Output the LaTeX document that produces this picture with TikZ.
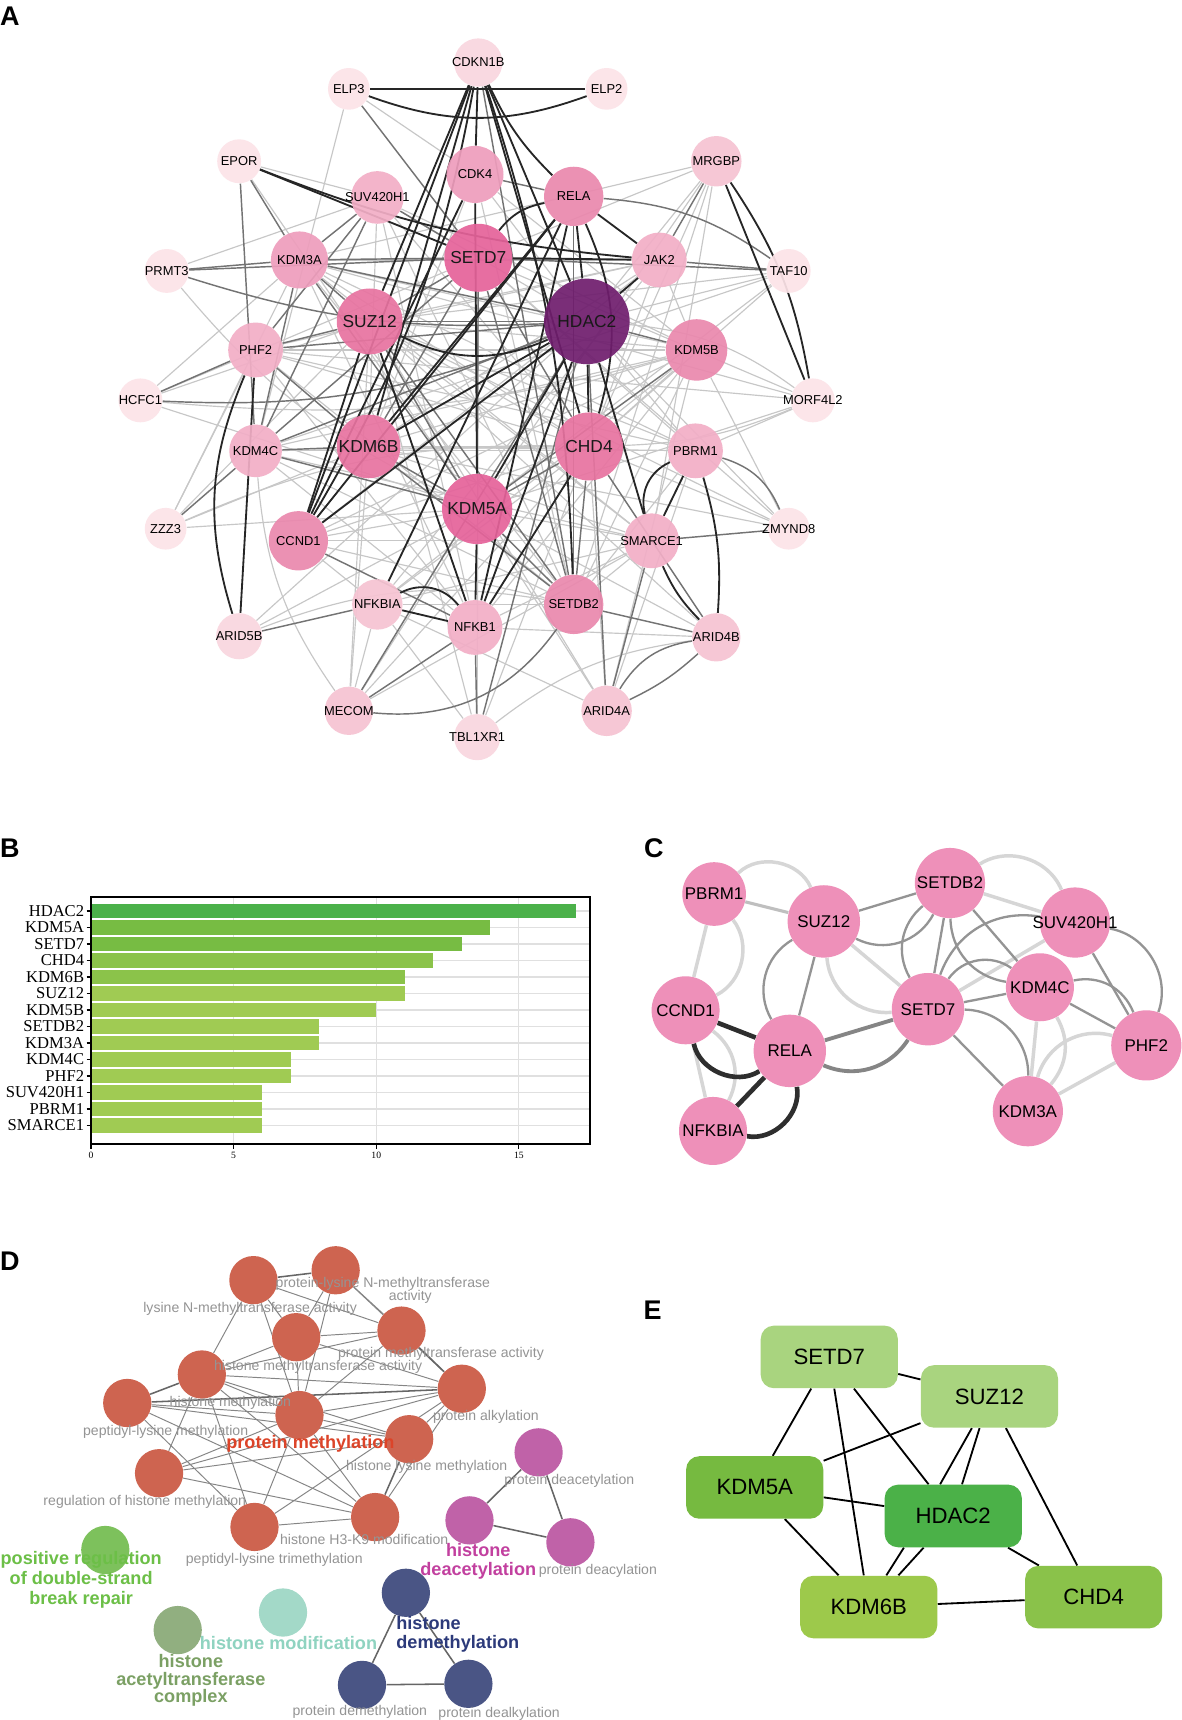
\documentclass[tikz,border=0pt]{standalone}
\usepackage{fontspec}
\setmainfont{Liberation Sans}
\newfontfamily\barfont{Liberation Serif}
\usetikzlibrary{backgrounds}

% pinks for panel A
\definecolor{pkA}{HTML}{FCE3E8}
\definecolor{pkB}{HTML}{F9D6DF}
\definecolor{pkC}{HTML}{F6C3D2}
\definecolor{pkD}{HTML}{F2AEC6}
\definecolor{pkE}{HTML}{EE9DBC}
\definecolor{pkF}{HTML}{EA88AD}
\definecolor{pkG}{HTML}{E873A0}
\definecolor{pkH}{HTML}{E5629A}
\definecolor{hdac}{HTML}{6F1D6D}
% greens
\definecolor{barA}{HTML}{4BB14A}
\definecolor{barB}{HTML}{77BC43}
\definecolor{barC}{HTML}{8BC34A}
\definecolor{barD}{HTML}{A0CB53}
\definecolor{eLight}{HTML}{A9D47F}
\definecolor{eKDM5A}{HTML}{76BA40}
\definecolor{eHDAC}{HTML}{4BB148}
\definecolor{eKDM6B}{HTML}{9DC94B}
\definecolor{eCHD4}{HTML}{8AC24A}
% panel C, D
\definecolor{cpink}{HTML}{EE90B9}
\definecolor{dOrange}{HTML}{CE6450}
\definecolor{dPurple}{HTML}{C062A8}
\definecolor{dNavy}{HTML}{4A5585}
\definecolor{dGreen}{HTML}{7DC15C}
\definecolor{dOlive}{HTML}{91AF80}
\definecolor{dTeal}{HTML}{A3D9C8}
\definecolor{tRed}{HTML}{DC4429}
\definecolor{tPurple}{HTML}{C2409F}
\definecolor{tGreen}{HTML}{6CBF47}
\definecolor{tTeal}{HTML}{8FD3C0}
\definecolor{tOlive}{HTML}{7BA064}
\definecolor{tNavy}{HTML}{2C3A7A}

\tikzset{
  panel/.style={font=\fontsize{14}{15}\selectfont\bfseries, inner sep=0pt},
  gene/.style={circle, inner sep=0pt, fill opacity=0.92, text opacity=1,
    font=\fontsize{6.7}{8}\selectfont},
  hubgene/.style={gene, font=\fontsize{9}{10}\selectfont},
  edark/.style={black!85, line width=0.95pt},
  emid/.style={black!55, line width=0.75pt},
  elite/.style={black!22, line width=0.6pt},
  barlabel/.style={anchor=east, inner sep=0pt, font=\barfont\fontsize{8.6}{9}\selectfont},
  ticklabel/.style={inner sep=0pt, font=\barfont\fontsize{5}{6}\selectfont},
  gridline/.style={black!12, line width=0.6pt},
  cgene/.style={circle, fill=cpink, inner sep=0pt, font=\fontsize{8.8}{10}\selectfont},
  clite/.style={black!16, line width=1.8pt},
  cmid/.style={black!42, line width=1.2pt},
  cthick/.style={black!48, line width=2pt},
  cdark/.style={black!82, line width=2.4pt},
  dnode/.style={circle, minimum size=8.8mm, inner sep=0pt},
  dedge/.style={black!48, line width=0.5pt},
  dedgeb/.style={black!60, line width=0.8pt},
  term/.style={text=black!42, inner sep=0pt, font=\fontsize{7.3}{8.5}\selectfont},
  grp/.style={inner sep=0pt, align=center, font=\fontsize{9.4}{10}\selectfont\bfseries},
  ebox/.style={rounded corners=2.4mm, minimum width=25mm, minimum height=11.4mm,
    inner sep=0pt, font=\fontsize{11.5}{12}\selectfont},
  eedge/.style={black, line width=0.95pt}
}

\begin{document}
\begin{tikzpicture}[x=0.2mm, y=-0.2mm]
\useasboundingbox (0,0) rectangle (1077,1568);
\begin{pgfonlayer}{background}
  \fill[white] (0,0) rectangle (1077,1568);
\end{pgfonlayer}

\node[panel] (labA) at (9,15) {A};
\node[panel] (labB) at (9,773) {B};
\node[panel] (labC) at (596,773) {C};
\node[panel] (labD) at (9,1150) {D};
\node[panel] (labE) at (595,1194) {E};

%% A: PPI network
\foreach \n/\x/\y/\r/\c in {CDKN1B/436/57/22/pkB, ELP3/318/81/19/pkA, ELP2/553/81/19/pkA,
    EPOR/218/147/20/pkA, SUV420H1/344/180/24/pkD, CDK4/433/159/26/pkE, RELA/523/179/27/pkF,
    MRGBP/653/147/23/pkC, KDM3A/273/237/26/pkE, JAK2/601/237/25/pkD, TAF10/719/247/20/pkA,
    PRMT3/152/247/20/pkA, KDM5B/635/319/28/pkF, PHF2/233/319/25/pkD, HCFC1/128/365/20/pkA,
    MORF4L2/741/365/20/pkA, KDM4C/233/411/24/pkD, PBRM1/634/411/25/pkD, ZZZ3/151/482/19/pkA,
    CCND1/272/493/27/pkF, SMARCE1/594/493/25/pkD, ZMYND8/719/482/19/pkA, NFKBIA/344/551/23/pkC,
    NFKB1/433/572/25/pkD, SETDB2/523/551/27/pkF, ARID5B/218/580/21/pkB, ARID4B/653/581/22/pkC,
    MECOM/318/648/22/pkC, ARID4A/553/648/23/pkC, TBL1XR1/435/672/21/pkB}
  \node[gene, fill=\c, minimum size=\r*0.4mm] (a\n) at (\x,\y) {\makebox[0pt]{\n}};
\foreach \n/\x/\y/\r/\c in {SETD7/436/235/31/pkH, SUZ12/337/293/30/pkG, HDAC2/535/293/39/hdac,
    KDM6B/336/407/29/pkG, CHD4/537/407/31/pkG, KDM5A/435/464/32/pkH}
  \node[hubgene, fill=\c, minimum size=\r*0.4mm, text=black!90] (a\n) at (\x,\y) {\makebox[0pt]{\n}};

\begin{pgfonlayer}{background}
  \foreach \p/\q in {MRGBP/CHD4, MRGBP/HDAC2, MRGBP/KDM5A, MRGBP/SMARCE1, MRGBP/SETDB2,
      TAF10/HDAC2, TAF10/KDM5A, TAF10/CHD4, MORF4L2/PBRM1, MORF4L2/KDM5A, ZMYND8/CHD4,
      ZMYND8/HDAC2, ZMYND8/KDM5B, ZZZ3/KDM3A, ZZZ3/PHF2, ZZZ3/SUZ12, HCFC1/SUZ12, HCFC1/SETD7,
      PRMT3/SUV420H1, ELP3/CDK4, CDK4/HDAC2, CDK4/KDM5B, CDK4/SETDB2, CDK4/KDM6B,
      SUV420H1/HDAC2, SUV420H1/KDM5B, SUV420H1/CHD4, SUV420H1/SETDB2, KDM3A/KDM5B, KDM3A/CHD4,
      KDM3A/PBRM1, KDM3A/NFKB1, KDM3A/SMARCE1, PHF2/CHD4, PHF2/KDM5B, PHF2/SETDB2, PHF2/PBRM1,
      KDM4C/CHD4, KDM4C/KDM5B, KDM4C/SETDB2, KDM4C/PBRM1, KDM4C/SMARCE1, KDM6B/KDM5B,
      KDM6B/PBRM1, KDM6B/SMARCE1, KDM6B/MECOM, SUZ12/KDM5B, SUZ12/CHD4, SUZ12/PBRM1,
      SUZ12/SMARCE1, SUZ12/MECOM, KDM5B/CHD4, KDM5B/SETDB2, KDM5B/NFKB1, KDM5B/ARID4A,
      PBRM1/SETDB2, PBRM1/ARID4A, PBRM1/HDAC2, PBRM1/SETD7, SMARCE1/SETDB2, SMARCE1/NFKBIA,
      SMARCE1/KDM5A, SETDB2/NFKBIA, NFKBIA/MECOM, NFKBIA/TBL1XR1, NFKBIA/CCND1, CCND1/KDM5B,
      CCND1/SMARCE1, CCND1/KDM5A, MECOM/CHD4, TBL1XR1/CHD4, TBL1XR1/KDM5A, TBL1XR1/SETD7,
      ARID4A/KDM5A, ARID4A/CHD4, ARID4A/NFKBIA, ARID4B/KDM5A, ARID4B/NFKB1, ARID5B/KDM5A,
      JAK2/KDM5B, JAK2/SUZ12, JAK2/KDM6B, JAK2/CHD4, JAK2/KDM3A, JAK2/PHF2, ZZZ3/KDM6B,
      HCFC1/KDM3A, ELP3/KDM4C, MRGBP/KDM3A, EPOR/SUV420H1, SUV420H1/KDM6B,
      HDAC2/ARID5B, KDM5A/ZZZ3, KDM5A/HCFC1, KDM5A/EPOR, CHD4/KDM6B, CHD4/CCND1, CHD4/NFKBIA,
      SETDB2/KDM3A, SETDB2/CCND1, NFKB1/SUV420H1, NFKB1/PHF2, NFKB1/KDM4C, NFKB1/SMARCE1,
      SETD7/ZMYND8, SETD7/MORF4L2, SETD7/MRGBP, SUZ12/TAF10, SUZ12/ZMYND8, KDM6B/ZMYND8,
      KDM3A/MORF4L2, PHF2/MORF4L2, KDM4C/TAF10, CCND1/JAK2, NFKBIA/JAK2, NFKBIA/KDM5B,
      MECOM/KDM5A, MECOM/SMARCE1, TBL1XR1/SUZ12, ARID4A/SUZ12, ARID4B/SUZ12}
    \draw[elite] (a\p) -- (a\q);
  \foreach \p/\q/\b in {MORF4L2/HDAC2/-15, MORF4L2/CHD4/10, KDM4C/MECOM/-15, TBL1XR1/ARID4B/15,
      HCFC1/KDM5B/-10, ZZZ3/CHD4/12, PRMT3/KDM5A/-12, ARID5B/SETDB2/15}
    \draw[elite] (a\p) to[bend left=\b] (a\q);
  \foreach \p/\q in {EPOR/KDM3A, EPOR/KDM4C, ELP3/SETD7, SUZ12/HDAC2, CDKN1B/SETDB2,
      SUZ12/SETDB2, KDM6B/SETDB2, KDM6B/KDM5A, KDM5A/SETDB2, KDM5A/CHD4, KDM5A/SUZ12,
      KDM5A/SETD7, KDM5A/KDM5B, KDM5A/KDM4C, KDM5A/KDM3A, SETD7/SUZ12, SETD7/KDM6B,
      SETD7/SETDB2, SETD7/KDM3A, SETD7/KDM4C, SETD7/SUV420H1, SETD7/CHD4, SETD7/TAF10,
      JAK2/TAF10, MRGBP/JAK2, PHF2/HCFC1, PHF2/KDM6B, PHF2/SUZ12, PHF2/HDAC2, KDM3A/HDAC2,
      KDM3A/SUZ12, KDM3A/KDM4C, KDM4C/ZZZ3, KDM4C/HDAC2, KDM4C/KDM6B, SMARCE1/ZMYND8,
      SETDB2/ARID4B, ARID4A/HDAC2, ARID4A/SMARCE1, NFKB1/TBL1XR1, HDAC2/TBL1XR1, NFKBIA/ARID5B,
      CCND1/NFKB1, MECOM/NFKB1, MECOM/HDAC2, PRMT3/KDM3A, PRMT3/SETD7, SUV420H1/KDM4C,
      SUV420H1/KDM3A, SUV420H1/PHF2, CHD4/ARID4B, KDM5B/HDAC2, CHD4/SETDB2, RELA/SETDB2,
      CDK4/RELA}
    \draw[emid] (a\p) -- (a\q);
  \foreach \p/\q/\b in {RELA/TAF10/15, PBRM1/ZMYND8/25, ARID4A/ARID4B/25, ARID4A/ARID4B/-8,
      MECOM/SETDB2/-30, HCFC1/HDAC2/-12, PRMT3/HDAC2/-10}
    \draw[emid] (a\p) to[bend left=\b] (a\q);
  \foreach \p/\q in {ELP3/ELP2, CDKN1B/CDK4, CDKN1B/SUZ12, CDKN1B/CCND1, CDKN1B/KDM6B,
      CDKN1B/HDAC2, CDKN1B/CHD4, EPOR/SETD7, MRGBP/MORF4L2, ARID5B/PHF2, NFKBIA/NFKB1,
      PBRM1/SMARCE1, CCND1/CDK4, CCND1/RELA, CCND1/HDAC2, KDM6B/RELA, KDM6B/HDAC2, RELA/HDAC2,
      RELA/NFKB1, RELA/NFKBIA, RELA/JAK2, HDAC2/KDM5A, HDAC2/CHD4, HDAC2/NFKB1, HDAC2/SMARCE1,
      HDAC2/JAK2, KDM5A/NFKB1, SUZ12/NFKB1, CHD4/NFKB1, SETD7/JAK2, CDK4/KDM5A, SUZ12/CCND1}
    \draw[edark] (a\p) -- (a\q);
  \foreach \p/\q/\b in {ELP3/ELP2/-20, EPOR/JAK2/-8, MRGBP/MORF4L2/12, ARID5B/PHF2/20,
      NFKBIA/NFKB1/40, PBRM1/SMARCE1/-40, CDKN1B/CCND1/10, CDKN1B/SETDB2/8, RELA/CHD4/20,
      SUZ12/HDAC2/-25, RELA/SETD7/-20, SMARCE1/ARID4B/-10, PBRM1/ARID4B/10, CDKN1B/RELA/-10}
    \draw[edark] (a\p) to[bend left=\b] (a\q);
\end{pgfonlayer}

%% B: degree bars
\foreach \k in {5,10,15}
  \draw[gridline] (83+26*\k,818) -- (83+26*\k,1043);
\foreach \g/\v/\c [count=\i] in {HDAC2/17/barA, KDM5A/14/barB, SETD7/13/barB, CHD4/12/barC,
    KDM6B/11/barC, SUZ12/11/barD, KDM5B/10/barD, SETDB2/8/barD, KDM3A/8/barD, KDM4C/7/barD,
    PHF2/7/barD, SUV420H1/6/barD, PBRM1/6/barD, SMARCE1/6/barD}{
  \pgfmathsetmacro\yy{830.5+15.04*(\i-1)}
  \draw[gridline] (83,\yy) -- (538,\yy);
  \fill[\c] (83,\yy-6.8) rectangle (83+26*\v,\yy+6.8);
  \draw[line width=0.6pt] (79,\yy) -- (83,\yy);
  \node[barlabel] (b\g) at (77,\yy) {\g};
}
\draw[line width=0.9pt] (83,818) rectangle (538,1043);
\foreach \k in {0,5,10,15}{
  \draw[line width=0.6pt] (83+26*\k,1043) -- (83+26*\k,1047);
  \node[ticklabel] (bt\k) at (83+26*\k,1053) {\k};
}

%% C: sub-network
\foreach \n/\x/\y/\r in {PBRM1/651/815/29, SUZ12/751/840/33, SETDB2/866/805/32,
    SUV420H1/980/841/32, CCND1/625/921/31, RELA/720/958/33, SETD7/846/920/33,
    KDM4C/948/900/31, PHF2/1045/953/32, NFKBIA/650/1031/31, KDM3A/937/1013/32}
  \node[cgene, minimum size=\r*0.4mm] (c\n) at (\x,\y) {\makebox[0pt]{\n}};
\begin{pgfonlayer}{background}
  \foreach \p/\q in {PBRM1/CCND1, SUZ12/SETD7, SETDB2/SUV420H1, SUV420H1/SETD7, KDM4C/KDM3A,
      KDM3A/PHF2, CCND1/NFKBIA}
    \draw[clite] (c\p) -- (c\q);
  \draw[black!25, line width=1.6pt] (cPBRM1) -- (cSUZ12);
  \foreach \p/\q/\b in {PBRM1/SUZ12/55, PBRM1/CCND1/50, SUZ12/SETD7/-45, SETDB2/SUV420H1/50,
      KDM4C/KDM3A/35, KDM3A/PHF2/45, CCND1/NFKBIA/40}
    \draw[clite] (c\p) to[bend left=\b] (c\q);
  \foreach \p/\q in {SUZ12/SETDB2, SUZ12/RELA, SETDB2/SETD7, SETDB2/KDM4C, SUV420H1/PHF2,
      KDM4C/SETD7, KDM4C/PHF2, SETD7/KDM3A}
    \draw[cmid] (c\p) -- (c\q);
  \foreach \p/\q/\b in {SUZ12/SETDB2/-45, SUZ12/RELA/-45, SETDB2/SETD7/-40, SETDB2/KDM4C/-40,
      SUV420H1/SETD7/-40, SUV420H1/PHF2/50, KDM4C/SETD7/-45, KDM4C/PHF2/40, SETD7/KDM3A/45}
    \draw[cmid] (c\p) to[bend left=\b] (c\q);
  \draw[cthick] (cRELA) -- (cSETD7);
  \draw[cthick] (cRELA) to[bend right=40] (cSETD7);
  \draw[cdark] (cCCND1) -- (cRELA);
  \draw[cdark] (cCCND1) to[bend right=55] (cRELA);
  \draw[cdark] (cRELA) -- (cNFKBIA);
  \draw[cdark] (cRELA) to[bend left=55] (cNFKBIA);
\end{pgfonlayer}

%% D: enrichment clusters
\foreach \i/\x/\y in {1/231/1167, 2/306/1158, 3/270/1219, 4/366/1213, 5/184/1253, 6/421/1266,
    7/116/1279, 8/273/1290, 9/373/1312, 10/145/1343, 11/232/1392, 12/342/1383}
  \node[dnode, fill=dOrange] (dO\i) at (\x,\y) {};
\foreach \i/\x/\y in {1/491/1324, 2/428/1386, 3/520/1406}
  \node[dnode, fill=dPurple] (dP\i) at (\x,\y) {};
\foreach \i/\x/\y in {1/370/1452, 2/330/1536, 3/427/1535}
  \node[dnode, fill=dNavy] (dV\i) at (\x,\y) {};
\node[dnode, fill=dGreen] (dGreen) at (96,1413) {};
\node[dnode, fill=dOlive] (dOlive) at (162,1486) {};
\node[dnode, fill=dTeal] (dTeal) at (258,1470) {};
\begin{pgfonlayer}{background}
  \foreach \p/\q in {1/3, 1/4, 1/5, 2/3, 2/4, 2/6, 3/4, 3/5, 3/8, 3/6, 4/5, 4/8, 5/6, 5/8, 5/9,
      5/12, 5/11, 7/8, 7/9, 7/12, 7/11, 8/6, 8/9, 8/10, 8/11, 8/12, 10/6, 10/9, 10/12, 10/5,
      12/6, 11/12, 11/6, 2/8, 1/8, 9/6}
    \draw[dedge] (dO\p) -- (dO\q);
  \foreach \p/\q in {1/2, 5/7, 7/6, 12/9, 4/6}
    \draw[dedgeb] (dO\p) -- (dO\q);
  \foreach \p/\q in {1/2, 1/3, 2/3}{
    \draw[dedgeb] (dP\p) -- (dP\q);
    \draw[dedgeb] (dV\p) -- (dV\q);
  }
\end{pgfonlayer}
\node[term] (t1) at (349,1170) {protein-lysine N-methyltransferase};
\node[term] (t2) at (374,1182) {activity};
\node[term] (t3) at (228,1193) {lysine N-methyltransferase activity};
\node[term] (t4) at (402,1234) {protein methyltransferase activity};
\node[term] (t5) at (290,1246) {histone methyltransferase activity};
\node[term] (t6) at (210,1279) {histone methylation};
\node[term] (t7) at (151,1305) {peptidyl-lysine methylation};
\node[term] (t8) at (443,1292) {protein alkylation};
\node[term] (t9) at (389,1337) {histone lysine methylation};
\node[term] (t10) at (519,1350) {protein deacetylation};
\node[term] (t11) at (132,1369) {regulation of histone methylation};
\node[term] (t12) at (332,1403) {histone H3-K9 modification};
\node[term] (t13) at (250,1422) {peptidyl-lysine trimethylation};
\node[term] (t14) at (545,1432) {protein deacylation};
\node[term] (t15) at (328,1561) {protein demethylation};
\node[term] (t16) at (455,1562) {protein dealkylation};
\node[grp, text=tRed] (gMeth) at (283,1316) {protein methylation};
\node[grp, text=tPurple] (gDeac) at (436,1423) {histone\\deacetylation};
\node[grp, text=tGreen, font=\fontsize{9.4}{10.5}\selectfont\bfseries] (gRep) at (74,1440)
  {positive regulation\\of double-strand\\break repair};
\node[grp, text=tTeal] (gMod) at (263,1498) {histone modification};
\node[grp, text=tOlive, font=\fontsize{9.4}{9.2}\selectfont\bfseries] (gHat) at (174,1532)
  {histone\\acetyltransferase\\complex};
\node[grp, text=tNavy, align=left, anchor=west] (gDem) at (361,1490) {histone\\demethylation};

%% E: hub genes
\node[ebox, fill=eLight] (eSETD7) at (756,1237) {SETD7};
\node[ebox, fill=eLight] (eSUZ12) at (902,1273) {SUZ12};
\node[ebox, fill=eKDM5A] (eKDM5A) at (688,1356) {KDM5A};
\node[ebox, fill=eHDAC] (eHDAC2) at (869,1382) {HDAC2};
\node[ebox, fill=eKDM6B] (eKDM6B) at (792,1465) {KDM6B};
\node[ebox, fill=eCHD4] (eCHD4) at (997,1456) {CHD4};
\begin{pgfonlayer}{background}
  \foreach \p/\q in {SETD7/SUZ12, SETD7/KDM5A, SETD7/KDM6B, SETD7/HDAC2, SUZ12/KDM5A,
      SUZ12/CHD4, KDM5A/HDAC2, KDM5A/KDM6B, HDAC2/CHD4, KDM6B/CHD4}
    \draw[eedge] (e\p) -- (e\q);
  \draw[eedge] ([shift={(-16,0)}]eSUZ12.south) -- ([shift={(-12,0)}]eHDAC2.north);
  \draw[eedge] ([shift={(-9,0)}]eSUZ12.south) -- ([shift={(8,0)}]eHDAC2.north);
  \draw[eedge] ([shift={(-45,0)}]eHDAC2.south) -- ([shift={(16,0)}]eKDM6B.north);
  \draw[eedge] ([shift={(-27,0)}]eHDAC2.south) -- ([shift={(27,0)}]eKDM6B.north);
\end{pgfonlayer}
\end{tikzpicture}
\end{document}
